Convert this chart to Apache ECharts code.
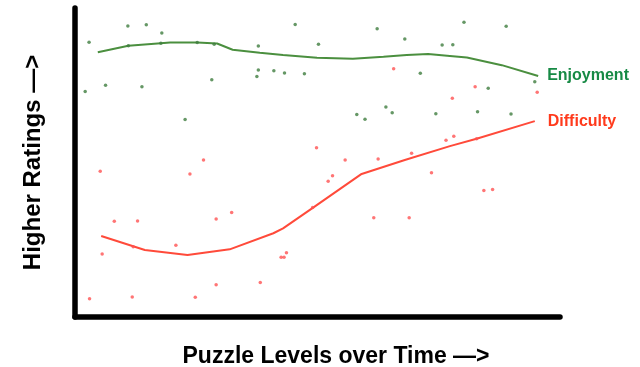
<!DOCTYPE html>
<html><head><meta charset="utf-8">
<script src="https://cdn.jsdelivr.net/npm/echarts@6/dist/echarts.min.js"></script>
<style>html,body{margin:0;padding:0;background:#fff}#c{width:640px;height:367px}</style>
</head><body><div id="c"></div>
<script>
// Scatter observations: [level position, rating]
const enjoymentPoints = [
  [2.9,88.9],[10.9,94.2],[14.7,94.6],[17.9,91.9],[2.1,73.0],[6.3,75.0],[13.8,74.5],[28.2,76.8],
  [37.8,87.7],[37.8,79.9],[37.5,77.8],[45.4,94.7],[50.2,88.3],[62.3,93.3],[68.0,90.0],[75.7,88.0],
  [41.0,79.7],[43.2,79.0],[47.3,78.7],[71.2,78.9],[64.1,68.0],[80.2,95.4],[88.9,94.1],[77.9,88.1],
  [94.8,76.1],[85.2,74.0],[58.1,65.5],[59.8,64.0],[65.4,66.1],[74.4,65.8],[83.0,66.4],[89.9,65.7],
  [22.7,63.9],[11.0,87.8],[17.7,88.6],[25.2,88.8],[28.7,88.3]
];
const difficultyPoints = [
  [65.7,80.3],[82.5,74.5],[77.8,70.8],[95.3,72.7],[49.8,54.8],[55.7,50.8],[53.1,45.7],[52.2,43.9],
  [62.5,51.1],[69.4,53.0],[73.5,46.7],[76.5,57.2],[78.1,58.5],[82.8,57.7],[84.3,40.9],[86.1,41.3],
  [5.2,47.2],[26.5,50.8],[23.7,46.3],[8.1,31.0],[12.9,31.1],[29.1,31.7],[32.3,33.8],[5.6,20.4],
  [12.0,22.7],[20.8,23.2],[3.0,5.9],[11.8,6.5],[24.8,6.4],[29.1,10.4],[38.2,11.2],[61.6,32.1],
  [68.9,32.1],[42.5,19.3],[43.1,19.3],[43.6,20.8],[49.0,35.4]
];
// Trend lines
const enjoymentTrendX = [4.7,11.0,17.7,19.6,25.2,29.3,32.5,38.1,42.9,49.9,57.3,63.6,68.4,72.8,77.3,80.8,88.0,95.5];
const enjoymentTrend  = [85.7,87.8,88.6,88.8,88.8,88.5,86.5,85.5,84.8,83.9,83.6,84.2,84.8,85.1,84.5,84.0,81.5,78.0];
const difficultyTrendX = [5.4,14.4,23.2,31.9,40.9,42.9,49.1,59.1,68.0,77.3,82.8,94.8];
const difficultyTrend  = [26.2,21.7,20.1,21.9,27.1,28.7,35.4,46.3,50.8,55.3,57.7,63.4];

const xName = 'Puzzle Levels over Time —>';
const yName = 'Higher Ratings —>';
const FONT = '"Liberation Sans", Arial, Helvetica, sans-serif';

const chart = echarts.init(document.getElementById('c'), null, {renderer:'canvas'});
chart.setOption({
  animation:false,
  backgroundColor:'#ffffff',
  grid:{left:75,right:80,top:8,bottom:50,outerBoundsMode:'none',containLabel:false},
  xAxis:{type:'value',min:0,max:100,
    name:xName,nameLocation:'middle',nameGap:28,
    nameTextStyle:{fontFamily:FONT,fontWeight:'bold',fontSize:23,color:'#000',padding:[0,0,0,37]},
    axisLine:{show:true,lineStyle:{color:'#000',width:5.5}},
    axisTick:{show:false},axisLabel:{show:false},splitLine:{show:false}},
  yAxis:{type:'value',min:0,max:100,
    name:yName,nameLocation:'middle',nameGap:30,nameRotate:90,
    nameTextStyle:{fontFamily:FONT,fontWeight:'bold',fontSize:24,color:'#000'},
    axisLine:{show:true,lineStyle:{color:'#000',width:5.5}},
    axisTick:{show:false},axisLabel:{show:false},splitLine:{show:false}},
  series:[
    {name:'EnjoymentPts',type:'scatter',symbolSize:3.5,
     itemStyle:{color:'#3e7d3e'},data:enjoymentPoints,z:3},
    {name:'DifficultyPts',type:'scatter',symbolSize:3.5,
     itemStyle:{color:'#ff5252'},data:difficultyPoints,z:3},
    {name:'Enjoyment',type:'line',showSymbol:false,smooth:false,
     lineStyle:{color:'#4b8f3f',width:2},
     data:enjoymentTrendX.map((x,i)=>[x,enjoymentTrend[i]]),
     endLabel:{show:true,formatter:'{a}',distance:9,color:'#178a45',fontWeight:'bold',fontSize:16,fontFamily:FONT},z:2},
    {name:'Difficulty',type:'line',showSymbol:false,smooth:false,
     lineStyle:{color:'#ff4a3a',width:2},
     data:difficultyTrendX.map((x,i)=>[x,difficultyTrend[i]]),
     endLabel:{show:true,formatter:'{a}',distance:13,color:'#ff3a1c',fontWeight:'bold',fontSize:16,fontFamily:FONT},z:2}
  ]
});
</script></body></html>
